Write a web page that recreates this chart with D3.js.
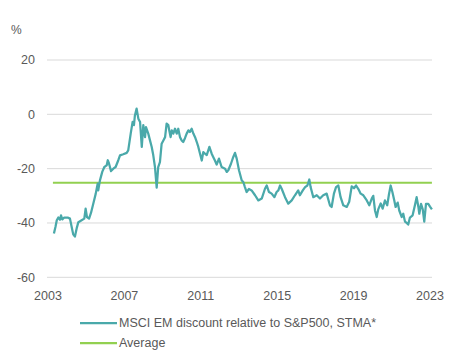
<!DOCTYPE html>
<html><head><meta charset="utf-8">
<script src="https://cdn.jsdelivr.net/npm/d3@7"></script>
<style>body{margin:0;background:#fff}svg{display:block}text{font-family:"Liberation Sans",Arial,sans-serif;fill:#595959}</style>
</head><body><svg id="c" width="460" height="362"></svg>
<script>
const years = [2003.31,2003.39,2003.46,2003.54,2003.63,2003.68,2003.75,2003.85,2004.03,2004.15,2004.24,2004.32,2004.41,2004.50,2004.59,2004.76,2004.90,2004.97,2005.04,2005.15,2005.25,2005.37,2005.50,2005.60,2005.63,2005.72,2005.84,2005.95,2006.07,2006.13,2006.19,2006.30,2006.42,2006.54,2006.68,2006.77,2006.94,2007.12,2007.20,2007.33,2007.43,2007.50,2007.55,2007.64,2007.73,2007.82,2007.91,2007.99,2008.08,2008.13,2008.25,2008.34,2008.43,2008.51,2008.60,2008.69,2008.77,2008.86,2008.95,2009.04,2009.13,2009.21,2009.30,2009.35,2009.42,2009.48,2009.56,2009.65,2009.74,2009.82,2009.91,2010.00,2010.08,2010.17,2010.26,2010.35,2010.43,2010.52,2010.61,2010.70,2010.79,2010.87,2010.96,2011.05,2011.13,2011.22,2011.31,2011.45,2011.57,2011.65,2011.74,2011.83,2011.95,2012.09,2012.27,2012.36,2012.44,2012.58,2012.70,2012.79,2012.88,2013.00,2013.14,2013.23,2013.31,2013.40,2013.52,2013.66,2013.84,2014.01,2014.19,2014.36,2014.45,2014.57,2014.71,2014.85,2014.97,2015.06,2015.15,2015.24,2015.41,2015.58,2015.76,2015.93,2016.10,2016.19,2016.34,2016.46,2016.58,2016.68,2016.75,2016.89,2017.07,2017.24,2017.41,2017.59,2017.76,2017.85,2017.97,2018.08,2018.20,2018.32,2018.46,2018.64,2018.77,2018.90,2019.02,2019.13,2019.25,2019.37,2019.51,2019.69,2019.82,2019.95,2020.03,2020.12,2020.21,2020.29,2020.42,2020.52,2020.64,2020.76,2020.85,2020.94,2021.03,2021.13,2021.20,2021.31,2021.39,2021.52,2021.60,2021.69,2021.78,2021.86,2021.95,2022.09,2022.21,2022.30,2022.39,2022.44,2022.53,2022.62,2022.70,2022.79,2022.91,2023.00,2023.10];
const discount = [-43.9,-41.5,-39,-38,-38.8,-37.2,-38.7,-38,-38,-38.4,-41.5,-44.2,-45,-42,-39.7,-39,-38.4,-34.7,-37.8,-38.4,-36.3,-32.9,-29.2,-25.5,-28,-24.3,-21.2,-19.4,-18.8,-16.9,-18,-20.9,-20,-19.4,-16.9,-15.1,-14.7,-14.2,-13.3,-7.1,-2.8,-4,-0.4,2.1,-1.6,-2.8,-12,-4,-8.4,-4.7,-7.1,-9.6,-12,-15,-19.4,-27,-19.4,-17.6,-10.8,-9.6,-8.4,-3.4,-4,-6,-8.4,-5.9,-7.1,-5.3,-7.1,-5.3,-8.4,-9.6,-10.2,-8.8,-7.1,-5.9,-6.5,-5.3,-7.1,-8.4,-10.2,-12,-14.5,-17,-13.9,-14.5,-15,-12,-14.5,-15.7,-17,-18.5,-16.3,-19.4,-20,-21.2,-20.6,-18.2,-15.7,-14.2,-16.3,-20.6,-24.3,-25,-26.8,-28.6,-27.5,-28,-29.8,-31.7,-31,-27.4,-26.2,-28.6,-29.2,-30.5,-28.6,-28,-26.2,-27.5,-30.5,-32.9,-31.7,-29.8,-28,-29.8,-28,-26.8,-26.2,-24,-26.8,-30.5,-29.8,-31,-29.8,-29.2,-33.5,-34.1,-29.2,-26.8,-26.2,-30.5,-33.5,-34.1,-32.2,-26.5,-27.2,-26.2,-27.5,-29.2,-29.8,-31.7,-33.5,-31,-30,-35.4,-37.8,-35,-32.8,-34.7,-31.7,-33.5,-29.5,-26.2,-28.6,-31.7,-34.1,-32.5,-35.4,-37.8,-36.6,-39.5,-40,-40.6,-38,-37.2,-33.5,-30.5,-34,-36.6,-33,-35,-39.5,-33,-33,-34,-35];
const averageValue = -25.2;
const yTicks = [20, 0, -20, -40, -60];
const xTicks = [2003, 2007, 2011, 2015, 2019, 2023];
const seriesNames = ["MSCI EM discount relative to S&P500, STMA*", "Average"];
const colors = ["#4AA9AA", "#92D050"];

const svg = d3.select("#c");
const x = d3.scaleLinear().domain([2003, 2023]).range([48, 430]);
const y = d3.scaleLinear().domain([-60, 20]).range([277.3, 60]);
const gridX0 = 47, gridX1 = 432;

// gridlines
svg.append("g").selectAll("line").data(yTicks).join("line")
  .attr("x1", gridX0).attr("x2", gridX1)
  .attr("y1", d => y(d)).attr("y2", d => y(d))
  .attr("stroke", "#D9D9D9").attr("stroke-width", 1);

// y labels
svg.append("g").selectAll("text").data(yTicks).join("text")
  .attr("x", 35).attr("y", d => y(d)).attr("dy", "0.35em")
  .attr("text-anchor", "end").attr("font-size", 12.5).text(d => d);

// x labels
svg.append("g").selectAll("text").data(xTicks).join("text")
  .attr("x", d => x(d)).attr("y", 296).attr("dy", "0.35em")
  .attr("text-anchor", "middle").attr("font-size", 12.5).text(d => d);

svg.append("text").attr("x", 11).attr("y", 30).attr("dy", "0.35em").attr("font-size", 12).text("%");

// average line
svg.append("line")
  .attr("x1", x(years[0]) - 1).attr("x2", x(years[years.length - 1]))
  .attr("y1", y(averageValue)).attr("y2", y(averageValue))
  .attr("stroke", colors[1]).attr("stroke-width", 2);

// series line
const data = years.map((yr, i) => [yr, discount[i]]);
svg.append("path").datum(data)
  .attr("fill", "none").attr("stroke", colors[0]).attr("stroke-width", 2.25)
  .attr("stroke-linejoin", "round")
  .attr("d", d3.line().x(d => x(d[0])).y(d => y(d[1])));

// legend
const lg = svg.append("g");
seriesNames.forEach((n, i) => {
  const ly = 323 + i * 20;
  lg.append("line").attr("x1", 80).attr("x2", 117).attr("y1", ly).attr("y2", ly)
    .attr("stroke", colors[i]).attr("stroke-width", 2.25);
  lg.append("text").attr("x", 119).attr("y", ly).attr("dy", "0.35em")
    .attr("font-size", 12.5).text(n);
});
</script></body></html>
